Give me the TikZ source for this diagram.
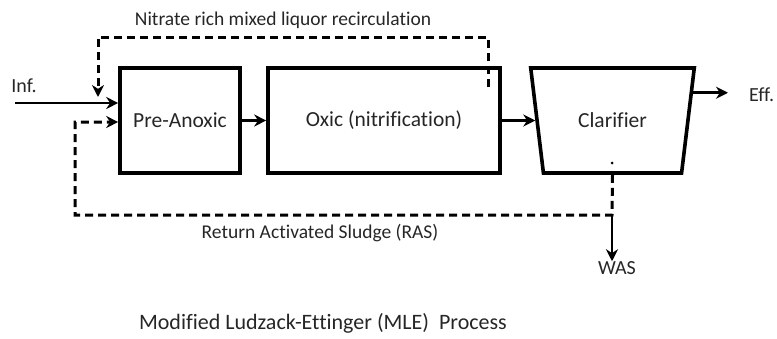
\documentclass[tikz,border=0pt]{standalone}
\usepackage{fontspec}
\setmainfont[Ligatures=NoCommon]{Carlito}
\usetikzlibrary{arrows.meta,positioning,calc,shapes.geometric}

\begin{document}
\begin{tikzpicture}[
    x=1pt,y=-1pt,
    tank/.style={rectangle,draw,line width=3.6pt,align=center,minimum height=105pt,font=\fontsize{21.5}{24}\selectfont,text=black!85},
    lbl/.style={font=\fontsize{20}{22}\selectfont,text=black!85,inner sep=0pt},
    flow/.style={line width=2.6pt,-{Stealth[length=12pt,width=12pt]}},
    recyc/.style={line width=3pt,dash pattern=on 8pt off 5pt},
    >=Latex]
    \useasboundingbox (0,0) rectangle (777,338);
    % tanks
    \node[tank,minimum width=120pt] (pre) at (180,120.5) {Pre-Anoxic};
    \node[tank,minimum width=232pt] (oxic) at (384,120.5) {Oxic (nitrification)};
    \node[trapezium,draw,line width=3.6pt,shape border rotate=180,trapezium stretches=true,
          trapezium angle=72.3,minimum width=165pt,minimum height=105pt,
          font=\fontsize{21.5}{24}\selectfont,text=black!85] (clar) at (612.5,120.5) {Clarifier};
    \fill (612,163) circle (1.5pt);
    % labels
    \node[lbl] (inf) at (24,86) {Inf.};
    \node[lbl,anchor=west] (eff) at (749,95) {Eff.};
    \node[lbl] (was) at (617,268) {WAS};
    \node[lbl,font=\fontsize{19.5}{22}\selectfont] (nrtxt) at (283,20) {Nitrate rich mixed liquor recirculation};
    \node[lbl,font=\fontsize{19.5}{22}\selectfont] (rastxt) at (320,233) {Return Activated Sludge (RAS)};
    \node[lbl,font=\fontsize{22}{24}\selectfont] (title) at (323,323) {Modified Ludzack-Ettinger (MLE)\ \ Process};
    % main flow
    \coordinate (infin) at (15,103);
    \draw[flow] (infin) -- (infin -| pre.west);
    \draw[flow] (pre.east) -- (oxic.west);
    \draw[flow] (oxic.east) -- (clar.west);
    \draw[flow,shorten >=21pt] (clar.19) -- (clar.19 -| eff.west);
    % internal recycle
    \coordinate (nrsrc) at (488,87);
    \coordinate (nrdst) at (98,97);
    \draw[recyc,-{Stealth[length=12pt,width=12pt]}] (nrsrc) -- (nrsrc |- 0,37) -| (nrdst);
    % return sludge and wasting
    \coordinate (ras) at (612,215);
    \draw[recyc,-{Stealth[length=12pt,width=12pt]}] (clar.south) -- (ras) -| (75,122) -- (75,122 -| pre.west);
    \draw[flow] (ras) -- (ras |- was.north);
\end{tikzpicture}
\end{document}
